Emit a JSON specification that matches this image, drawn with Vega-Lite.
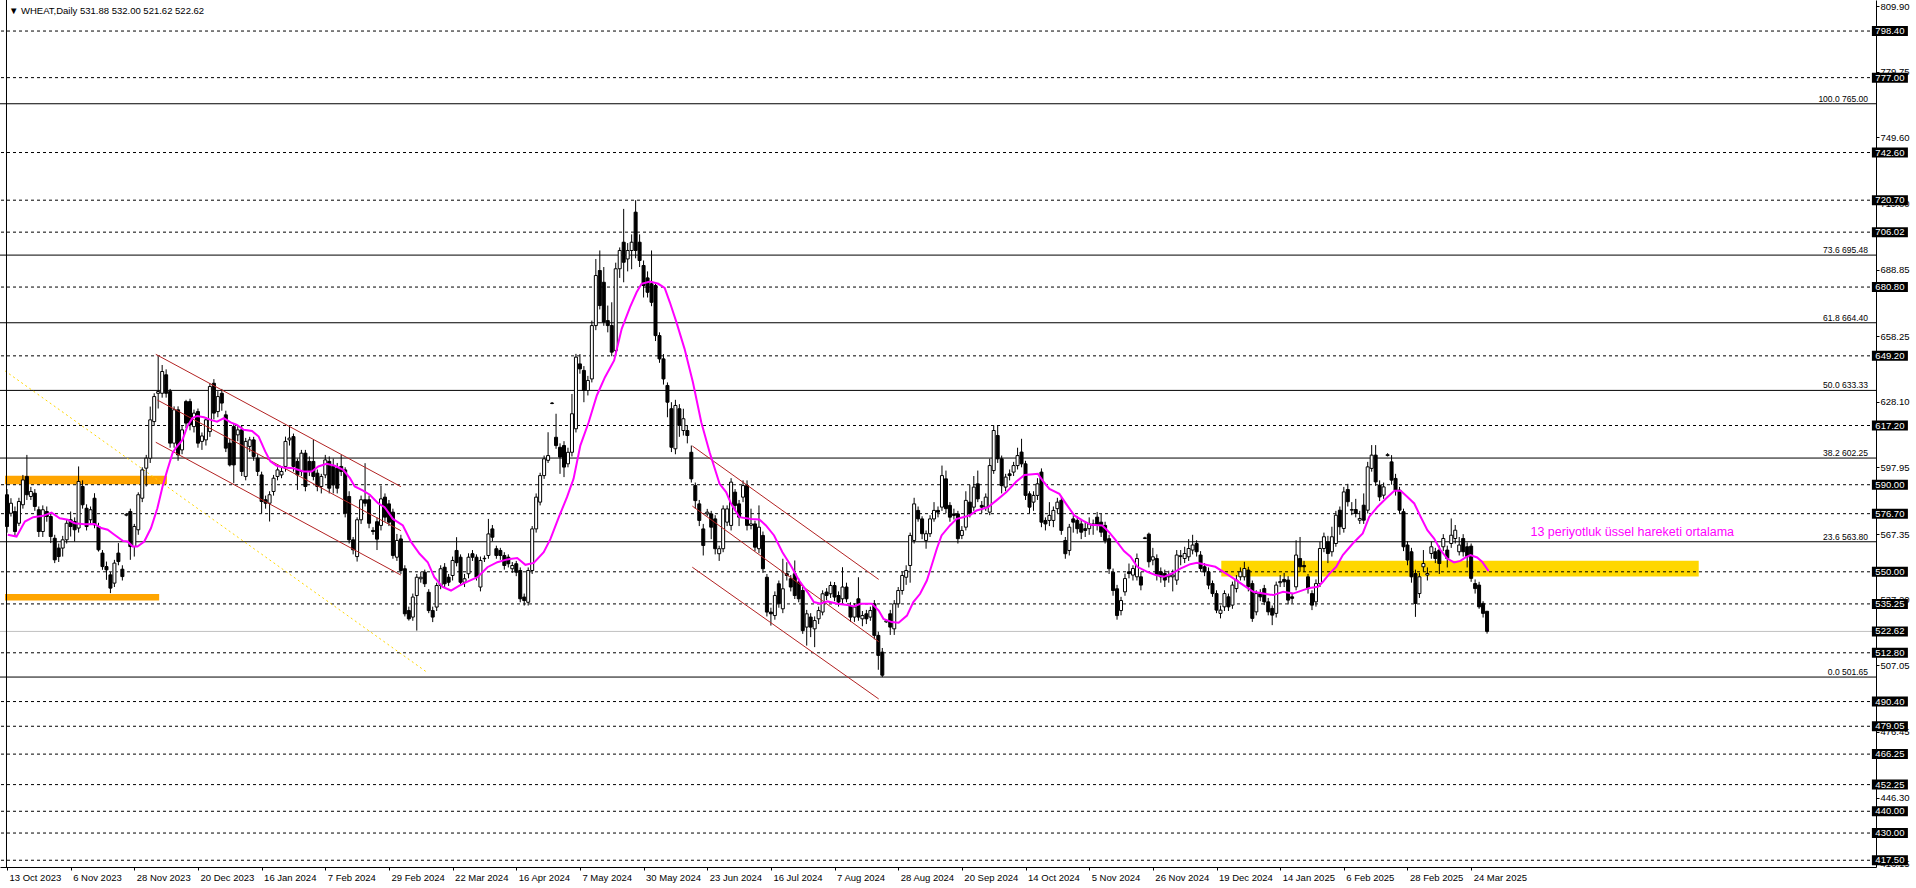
{
"$schema":"https://vega.github.io/schema/vega-lite/v6.json",
"width":1876,"height":867,"autosize":"none",
"padding":{"left":0,"top":0,"right":40,"bottom":21},
"background":"#ffffff",
"config":{"view":{"stroke":null},"text":{"font":"Liberation Sans"},"axis":{"grid":false,"title":null}},
"datasets":{
"candles":[
{"i":0,"o":585.4,"h":588,"l":568,"c":570.8},{"i":1,"o":576.9,"h":583.8,"l":575.4,"c":581.5},{"i":2,"o":577.7,"h":580,"l":566,"c":568.5},{"i":3,"o":572.3,"h":584,"l":571,"c":582.3},{"i":4,"o":580.8,"h":594.5,"l":579,"c":592.2},{"i":5,"o":593.8,"h":603.7,"l":583,"c":585.4},{"i":6,"o":584.6,"h":589,"l":583,"c":586.9},{"i":7,"o":586.1,"h":588,"l":578,"c":580.0},{"i":8,"o":578.5,"h":580,"l":566,"c":568.5},{"i":9,"o":568.5,"h":580.5,"l":566,"c":578.5},
{"i":10,"o":577.7,"h":580,"l":573,"c":575.4},{"i":11,"o":575.4,"h":577,"l":563.2,"c":566.2},{"i":12,"o":565.4,"h":567,"l":554.0,"c":555.5},{"i":13,"o":560.9,"h":563,"l":554.5,"c":557.0},{"i":14,"o":560.9,"h":566.5,"l":557.0,"c":564.7},{"i":15,"o":564.7,"h":574,"l":563,"c":572.3},{"i":16,"o":573.9,"h":577.7,"l":566.2,"c":570.8},{"i":17,"o":573.1,"h":575,"l":563.9,"c":569.3},{"i":18,"o":570.1,"h":598.4,"l":568,"c":591.5},{"i":19,"o":589.2,"h":592,"l":579,"c":580.8},
{"i":20,"o":579.2,"h":581,"l":569,"c":570.8},{"i":21,"o":573.9,"h":580,"l":572,"c":578.5},{"i":22,"o":583.8,"h":586.1,"l":570,"c":571.6},{"i":23,"o":570.8,"h":572.5,"l":559.3,"c":560.1},{"i":24,"o":558.6,"h":560,"l":550.9,"c":552.4},{"i":25,"o":552.4,"h":554.7,"l":546.3,"c":550.9},{"i":26,"o":548.6,"h":550,"l":540.2,"c":542.5},{"i":27,"o":544.8,"h":555.5,"l":543,"c":554.0},{"i":28,"o":558.6,"h":563.2,"l":553,"c":554.7},{"i":29,"o":551.2,"h":553,"l":546,"c":547.8},
{"i":30,"o":576.0,"h":577,"l":575.5,"c":576.4},{"i":31,"o":577.7,"h":579,"l":555.5,"c":561.6},{"i":32,"o":561.6,"h":572,"l":557,"c":570.8},{"i":33,"o":569.3,"h":586.5,"l":567,"c":585.4},{"i":34,"o":583.8,"h":598,"l":582,"c":596.8},{"i":35,"o":597.6,"h":603.7,"l":589.2,"c":602.2},{"i":36,"o":602.2,"h":625.9,"l":600,"c":619.8},{"i":37,"o":619.0,"h":632.0,"l":617,"c":630.5},{"i":38,"o":632.0,"h":648.9,"l":625,"c":632.8},{"i":39,"o":632.0,"h":645,"l":630,"c":642.0},
{"i":40,"o":640.5,"h":643,"l":630,"c":632.0},{"i":41,"o":632.8,"h":634,"l":607,"c":609.1},{"i":42,"o":609.1,"h":626,"l":607,"c":624.4},{"i":43,"o":624.4,"h":626,"l":601,"c":603.7},{"i":44,"o":606.0,"h":617,"l":604,"c":615.2},{"i":45,"o":628.2,"h":629,"l":616,"c":618.3},{"i":46,"o":628.2,"h":629.5,"l":615,"c":617.5},{"i":47,"o":616.7,"h":624.5,"l":614,"c":622.9},{"i":48,"o":623.6,"h":625,"l":607,"c":609.1},{"i":49,"o":609.9,"h":614,"l":606,"c":612.4},
{"i":50,"o":610.6,"h":621,"l":608,"c":619.8},{"i":51,"o":614.4,"h":636.6,"l":612,"c":635.1},{"i":52,"o":636.6,"h":638.5,"l":620,"c":622.9},{"i":53,"o":623.6,"h":633,"l":621,"c":630.5},{"i":54,"o":632.0,"h":634,"l":624,"c":627.5},{"i":55,"o":622.1,"h":624,"l":605,"c":606.8},{"i":56,"o":609.1,"h":611,"l":598.4,"c":599.1},{"i":57,"o":616.7,"h":618,"l":590.7,"c":599.1},{"i":58,"o":612.9,"h":617,"l":610,"c":615.2},{"i":59,"o":615.2,"h":617,"l":594,"c":596.1},
{"i":60,"o":593.8,"h":611.5,"l":592,"c":609.9},{"i":61,"o":607.6,"h":612,"l":605,"c":610.6},{"i":62,"o":610.6,"h":612,"l":601,"c":603.0},{"i":63,"o":602.2,"h":604,"l":594,"c":596.1},{"i":64,"o":594.5,"h":596,"l":576.9,"c":582.3},{"i":65,"o":583.1,"h":585,"l":579,"c":581.5},{"i":66,"o":581.5,"h":587,"l":573.1,"c":585.4},{"i":67,"o":586.9,"h":594.5,"l":585,"c":593.0},{"i":68,"o":593.8,"h":598,"l":592,"c":596.8},{"i":69,"o":594.5,"h":598.4,"l":593,"c":596.1},
{"i":70,"o":598.4,"h":612.1,"l":596,"c":609.9},{"i":71,"o":610.6,"h":616.7,"l":608,"c":611.4},{"i":72,"o":612.1,"h":613.5,"l":596,"c":598.4},{"i":73,"o":600.7,"h":602,"l":587.6,"c":594.5},{"i":74,"o":596.1,"h":606,"l":594,"c":604.5},{"i":75,"o":604.5,"h":606,"l":587,"c":589.2},{"i":76,"o":600.7,"h":603,"l":594,"c":596.1},{"i":77,"o":600.7,"h":610.6,"l":592,"c":593.8},{"i":78,"o":595.3,"h":597,"l":587,"c":589.2},{"i":79,"o":589.2,"h":595,"l":586,"c":593.8},
{"i":80,"o":594.5,"h":603.7,"l":593,"c":601.4},{"i":81,"o":600.7,"h":603,"l":586,"c":588.4},{"i":82,"o":598.4,"h":602,"l":586,"c":589.9},{"i":83,"o":597.6,"h":600,"l":586,"c":588.4},{"i":84,"o":598.4,"h":603.7,"l":594,"c":596.1},{"i":85,"o":596.8,"h":598,"l":575,"c":576.9},{"i":86,"o":584.6,"h":587,"l":563,"c":564.7},{"i":87,"o":564.7,"h":566,"l":558,"c":560.1},{"i":88,"o":557.0,"h":575,"l":554.7,"c":573.9},{"i":89,"o":573.9,"h":585,"l":572,"c":583.1},
{"i":90,"o":583.1,"h":599.9,"l":580,"c":581.5},{"i":91,"o":583.1,"h":585,"l":570,"c":572.3},{"i":92,"o":569.0,"h":570.5,"l":567,"c":568.5},{"i":93,"o":573.0,"h":575,"l":560,"c":565.0},{"i":94,"o":571.3,"h":589.6,"l":569,"c":583.5},{"i":95,"o":584.3,"h":586,"l":573,"c":575.1},{"i":96,"o":581.2,"h":583,"l":571,"c":572.8},{"i":97,"o":577.4,"h":579,"l":556,"c":557.5},{"i":98,"o":556.7,"h":567.4,"l":555,"c":564.4},{"i":99,"o":565.1,"h":567,"l":549,"c":550.6},
{"i":100,"o":551.4,"h":553,"l":529.5,"c":530.7},{"i":101,"o":532.2,"h":534,"l":527.6,"c":528.4},{"i":102,"o":529.2,"h":540,"l":527.5,"c":538.4},{"i":103,"o":539.1,"h":549,"l":523.0,"c":547.5},{"i":104,"o":546.8,"h":550,"l":545,"c":547.5},{"i":105,"o":549.8,"h":551,"l":543,"c":544.5},{"i":106,"o":540.6,"h":542,"l":531,"c":532.2},{"i":107,"o":532.2,"h":534,"l":526.9,"c":529.2},{"i":108,"o":533.8,"h":545,"l":532,"c":543.7},{"i":109,"o":543.7,"h":553,"l":542,"c":551.4},
{"i":110,"o":552.1,"h":554,"l":543,"c":544.5},{"i":111,"o":547.5,"h":549,"l":543.5,"c":545.2},{"i":112,"o":548.3,"h":557,"l":546,"c":555.2},{"i":113,"o":559.8,"h":565.9,"l":552.5,"c":554.2},{"i":114,"o":556.7,"h":558,"l":543.5,"c":545.2},{"i":115,"o":545.2,"h":549,"l":543,"c":546.8},{"i":116,"o":549.1,"h":558.5,"l":547,"c":556.7},{"i":117,"o":558.3,"h":560,"l":555,"c":556.7},{"i":118,"o":556.7,"h":558,"l":546,"c":547.5},{"i":119,"o":543.0,"h":557,"l":541,"c":555.2},
{"i":120,"o":556.2,"h":557.5,"l":554.5,"c":556.0},{"i":121,"o":557.5,"h":574.3,"l":556,"c":567.4},{"i":122,"o":569.7,"h":571.5,"l":564,"c":565.9},{"i":123,"o":560.6,"h":562,"l":556,"c":557.5},{"i":124,"o":559.8,"h":561,"l":555.5,"c":557.5},{"i":125,"o":557.5,"h":559,"l":551,"c":552.9},{"i":126,"o":556.7,"h":558,"l":552,"c":553.7},{"i":127,"o":551.4,"h":554.5,"l":549.5,"c":552.9},{"i":128,"o":553.7,"h":555,"l":548,"c":549.8},{"i":129,"o":550.6,"h":552,"l":536,"c":537.6},
{"i":130,"o":538.4,"h":540,"l":534.5,"c":536.8},{"i":131,"o":536.0,"h":552,"l":534.5,"c":550.6},{"i":132,"o":550.6,"h":571,"l":549,"c":569.7},{"i":133,"o":569.7,"h":586,"l":568,"c":584.3},{"i":134,"o":582.0,"h":595.5,"l":580.5,"c":594.2},{"i":135,"o":594.2,"h":603.4,"l":592.7,"c":601.9},{"i":136,"o":601.2,"h":614.1,"l":600,"c":603.4},{"i":137,"o":627.3,"h":628,"l":627,"c":627.5},{"i":138,"o":611.8,"h":622.6,"l":606.5,"c":608.0},{"i":139,"o":607.2,"h":609,"l":595.0,"c":602.7},
{"i":140,"o":608.0,"h":610,"l":593.5,"c":598.1},{"i":141,"o":599.6,"h":607,"l":598,"c":604.9},{"i":142,"o":604.9,"h":631.7,"l":603,"c":622.6},{"i":143,"o":615.7,"h":650.1,"l":614,"c":648.6},{"i":144,"o":645.5,"h":650,"l":641,"c":643.2},{"i":145,"o":642.5,"h":644.5,"l":627.9,"c":633.3},{"i":146,"o":633.3,"h":640,"l":631,"c":637.9},{"i":147,"o":638.6,"h":665.4,"l":637,"c":663.1},{"i":148,"o":663.1,"h":693.7,"l":661,"c":686.1},{"i":149,"o":688.4,"h":697.6,"l":670.5,"c":672.3},
{"i":150,"o":683.0,"h":690,"l":663,"c":664.7},{"i":151,"o":665.4,"h":672.3,"l":660,"c":663.1},{"i":152,"o":663.1,"h":673.8,"l":649,"c":650.9},{"i":153,"o":651.6,"h":692,"l":649,"c":689.2},{"i":154,"o":689.2,"h":699,"l":685,"c":697.6},{"i":155,"o":701.4,"h":716.7,"l":683,"c":692.2},{"i":156,"o":693.7,"h":701,"l":688,"c":697.6},{"i":157,"o":697.6,"h":705,"l":689,"c":701.4},{"i":158,"o":715.2,"h":720.7,"l":694,"c":697.6},{"i":159,"o":701.4,"h":705,"l":690,"c":693.0},
{"i":160,"o":690.7,"h":693,"l":676,"c":681.5},{"i":161,"o":685.0,"h":688,"l":676,"c":678.4},{"i":162,"o":682.3,"h":697.6,"l":672,"c":673.8},{"i":163,"o":681.5,"h":683,"l":656,"c":658.5},{"i":164,"o":658.5,"h":660,"l":646,"c":647.8},{"i":165,"o":647.8,"h":650,"l":636,"c":638.6},{"i":166,"o":635.6,"h":637,"l":621,"c":627.9},{"i":167,"o":624.9,"h":627.9,"l":605,"c":607.2},{"i":168,"o":606.5,"h":629,"l":604,"c":626.4},{"i":169,"o":624.9,"h":627,"l":612,"c":617.2},
{"i":170,"o":614.9,"h":624.9,"l":612.6,"c":620.3},{"i":171,"o":614.9,"h":617,"l":609,"c":612.6},{"i":172,"o":604.9,"h":608,"l":591,"c":592.7},{"i":173,"o":589.6,"h":591,"l":579,"c":582.7},{"i":174,"o":581.2,"h":583,"l":571,"c":573.6},{"i":175,"o":569.7,"h":572,"l":557.5,"c":562.1},{"i":176,"o":576.6,"h":578.9,"l":575.5,"c":577.4},{"i":177,"o":576.6,"h":578,"l":565,"c":570.5},{"i":178,"o":574.3,"h":576,"l":558,"c":560.6},{"i":179,"o":558.3,"h":562,"l":555,"c":560.6},
{"i":180,"o":560.6,"h":580.5,"l":559,"c":578.9},{"i":181,"o":572.8,"h":580.5,"l":571,"c":578.9},{"i":182,"o":571.3,"h":593,"l":569,"c":591.2},{"i":183,"o":586.6,"h":588,"l":578,"c":580.5},{"i":184,"o":581.2,"h":583,"l":571,"c":575.1},{"i":185,"o":584.3,"h":592,"l":582,"c":589.6},{"i":186,"o":589.6,"h":592,"l":569,"c":571.3},{"i":187,"o":571.3,"h":579.0,"l":569.5,"c":572.0},{"i":188,"o":572.0,"h":573.5,"l":559.5,"c":561.3},{"i":189,"o":560.6,"h":580.5,"l":558.5,"c":570.5},
{"i":190,"o":566.7,"h":568.5,"l":549.5,"c":551.4},{"i":191,"o":547.5,"h":549,"l":529.5,"c":531.5},{"i":192,"o":531.5,"h":533.5,"l":525.3,"c":530.7},{"i":193,"o":529.9,"h":541,"l":528,"c":539.1},{"i":194,"o":544.5,"h":546,"l":533.5,"c":535.3},{"i":195,"o":533.0,"h":556.0,"l":531,"c":542.2},{"i":196,"o":549.1,"h":554.4,"l":546,"c":548.3},{"i":197,"o":546.8,"h":548.5,"l":541,"c":543.0},{"i":198,"o":549.1,"h":555.2,"l":537.5,"c":539.1},{"i":199,"o":545.3,"h":547,"l":536,"c":537.6},
{"i":200,"o":541.4,"h":543,"l":521.5,"c":523.0},{"i":201,"o":524.6,"h":532.5,"l":516.1,"c":530.7},{"i":202,"o":529.2,"h":531,"l":520,"c":524.6},{"i":203,"o":523.8,"h":529.5,"l":515.4,"c":527.6},{"i":204,"o":528.4,"h":534,"l":526,"c":532.2},{"i":205,"o":531.5,"h":541.5,"l":530,"c":539.9},{"i":206,"o":540.7,"h":542.5,"l":537,"c":539.1},{"i":207,"o":539.9,"h":545.5,"l":538,"c":543.7},{"i":208,"o":543.7,"h":545.3,"l":536.5,"c":538.4},{"i":209,"o":539.1,"h":541,"l":534,"c":536.1},
{"i":210,"o":537.6,"h":552.1,"l":535.5,"c":543.0},{"i":211,"o":543.0,"h":545,"l":536,"c":537.6},{"i":212,"o":534.5,"h":536,"l":527,"c":529.2},{"i":213,"o":529.2,"h":535.5,"l":527,"c":533.8},{"i":214,"o":537.6,"h":547.5,"l":527.5,"c":529.2},{"i":215,"o":528.4,"h":532,"l":525,"c":529.9},{"i":216,"o":530.7,"h":532.5,"l":526,"c":528.4},{"i":217,"o":529.2,"h":534,"l":527.5,"c":532.2},{"i":218,"o":535.3,"h":537,"l":519,"c":520.8},{"i":219,"o":520.8,"h":522.5,"l":505,"c":511.6},
{"i":220,"o":513.1,"h":515,"l":501.65,"c":502.5},{"i":221,"o":527.0,"h":528,"l":526.5,"c":527.5},{"i":222,"o":530.7,"h":532.5,"l":521,"c":524.6},{"i":223,"o":523.8,"h":537,"l":521,"c":535.3},{"i":224,"o":535.3,"h":543,"l":533.5,"c":541.4},{"i":225,"o":541.4,"h":550,"l":539.5,"c":548.3},{"i":226,"o":547.5,"h":553,"l":544,"c":550.6},{"i":227,"o":552.9,"h":568,"l":545,"c":566.7},{"i":228,"o":564.4,"h":584,"l":563,"c":581.2},{"i":229,"o":578.2,"h":580,"l":573,"c":574.3},
{"i":230,"o":574.3,"h":575.5,"l":565,"c":567.5},{"i":231,"o":564.4,"h":569,"l":560.6,"c":567.5},{"i":232,"o":567.5,"h":576,"l":566,"c":574.3},{"i":233,"o":574.3,"h":582,"l":573,"c":578.2},{"i":234,"o":578.2,"h":580,"l":575,"c":577.4},{"i":235,"o":579.7,"h":598.8,"l":578,"c":594.2},{"i":236,"o":592.7,"h":596.5,"l":577,"c":579.0},{"i":237,"o":580.5,"h":582,"l":573,"c":575.1},{"i":238,"o":576.6,"h":579,"l":574,"c":575.9},{"i":239,"o":576.6,"h":578,"l":563,"c":565.2},
{"i":240,"o":566.7,"h":571,"l":565,"c":569.0},{"i":241,"o":570.5,"h":587,"l":569,"c":582.8},{"i":242,"o":582.0,"h":590,"l":575,"c":576.6},{"i":243,"o":579.7,"h":594,"l":578,"c":588.9},{"i":244,"o":590.4,"h":596.5,"l":582,"c":583.5},{"i":245,"o":580.5,"h":582.5,"l":577,"c":579.7},{"i":246,"o":579.7,"h":586,"l":578,"c":584.3},{"i":247,"o":577.4,"h":602,"l":576,"c":598.8},{"i":248,"o":596.5,"h":617.2,"l":595,"c":614.9},{"i":249,"o":612.6,"h":617.2,"l":600,"c":601.9},
{"i":250,"o":601.9,"h":603.4,"l":586,"c":589.6},{"i":251,"o":588.9,"h":595,"l":587,"c":593.5},{"i":252,"o":595.0,"h":597,"l":592,"c":594.2},{"i":253,"o":595.8,"h":600.5,"l":594,"c":598.8},{"i":254,"o":598.8,"h":607,"l":597,"c":603.4},{"i":255,"o":605.0,"h":611.1,"l":598,"c":599.6},{"i":256,"o":599.6,"h":601,"l":583,"c":585.1},{"i":257,"o":585.8,"h":587,"l":577,"c":579.7},{"i":258,"o":582.0,"h":587,"l":578,"c":585.1},{"i":259,"o":585.1,"h":593,"l":583,"c":590.4},
{"i":260,"o":595.8,"h":597.5,"l":570.5,"c":572.8},{"i":261,"o":573.6,"h":575,"l":569,"c":572.0},{"i":262,"o":573.6,"h":582,"l":571,"c":575.9},{"i":263,"o":573.6,"h":580,"l":570.5,"c":578.2},{"i":264,"o":579.0,"h":584,"l":577,"c":582.0},{"i":265,"o":582.8,"h":584.5,"l":567,"c":569.0},{"i":266,"o":564.4,"h":566,"l":556,"c":558.3},{"i":267,"o":559.8,"h":572,"l":557.5,"c":570.5},{"i":268,"o":574.3,"h":576,"l":568,"c":572.8},{"i":269,"o":573.6,"h":575.5,"l":567.5,"c":569.8},
{"i":270,"o":572.0,"h":574,"l":565,"c":568.2},{"i":271,"o":569.8,"h":573,"l":566,"c":569.0},{"i":272,"o":569.8,"h":575,"l":567,"c":572.0},{"i":273,"o":572.0,"h":574,"l":567,"c":571.3},{"i":274,"o":575.1,"h":577.5,"l":569,"c":571.3},{"i":275,"o":572.8,"h":576.6,"l":566,"c":568.2},{"i":276,"o":571.3,"h":573,"l":563,"c":564.4},{"i":277,"o":565.2,"h":567,"l":549,"c":551.4},{"i":278,"o":549.8,"h":551.5,"l":539,"c":541.4},{"i":279,"o":542.2,"h":544,"l":528,"c":529.9},
{"i":280,"o":532.2,"h":538.5,"l":530,"c":536.8},{"i":281,"o":540.8,"h":549.2,"l":539,"c":546.9},{"i":282,"o":550.0,"h":553.8,"l":547,"c":549.2},{"i":283,"o":548.5,"h":553,"l":546,"c":551.5},{"i":284,"o":547.7,"h":558.4,"l":546,"c":556.1},{"i":285,"o":547.7,"h":550,"l":541.5,"c":543.9},{"i":286,"o":565.3,"h":566.1,"l":565,"c":565.6},{"i":287,"o":567.3,"h":568,"l":552,"c":554.6},{"i":288,"o":555.4,"h":561,"l":553,"c":556.9},{"i":289,"o":556.1,"h":558,"l":546,"c":548.5},
{"i":290,"o":550.0,"h":552,"l":545,"c":547.7},{"i":291,"o":549.2,"h":551,"l":543,"c":546.2},{"i":292,"o":547.7,"h":550.5,"l":545,"c":548.5},{"i":293,"o":547.7,"h":551,"l":541,"c":548.5},{"i":294,"o":546.2,"h":560,"l":544,"c":557.7},{"i":295,"o":557.0,"h":560,"l":553,"c":557.4},{"i":296,"o":556.1,"h":561.5,"l":554,"c":558.4},{"i":297,"o":556.9,"h":565,"l":555,"c":560.7},{"i":298,"o":560.0,"h":567,"l":558,"c":562.3},{"i":299,"o":563.0,"h":564.5,"l":557,"c":559.2},
{"i":300,"o":557.7,"h":559.5,"l":550,"c":551.5},{"i":301,"o":552.3,"h":554,"l":548,"c":550.0},{"i":302,"o":550.0,"h":552,"l":542,"c":543.9},{"i":303,"o":544.6,"h":546,"l":538.5,"c":540.0},{"i":304,"o":540.0,"h":541.5,"l":531,"c":532.4},{"i":305,"o":530.9,"h":534.5,"l":528.6,"c":532.4},{"i":306,"o":533.9,"h":541.5,"l":532,"c":540.0},{"i":307,"o":538.5,"h":540,"l":532,"c":533.9},{"i":308,"o":534.7,"h":545.5,"l":533,"c":543.9},{"i":309,"o":542.3,"h":548.5,"l":540.5,"c":546.2},
{"i":310,"o":547.7,"h":552,"l":546,"c":550.0},{"i":311,"o":547.7,"h":554.6,"l":546,"c":551.5},{"i":312,"o":550.8,"h":552.3,"l":541,"c":543.1},{"i":313,"o":544.6,"h":546,"l":527,"c":528.6},{"i":314,"o":531.6,"h":541.5,"l":530,"c":540.0},{"i":315,"o":540.0,"h":542,"l":536.5,"c":538.5},{"i":316,"o":542.3,"h":544,"l":534.7,"c":536.2},{"i":317,"o":536.2,"h":538,"l":530,"c":531.6},{"i":318,"o":533.2,"h":534.5,"l":525.5,"c":530.1},{"i":319,"o":530.9,"h":545.5,"l":529,"c":543.9},
{"i":320,"o":545.0,"h":548.5,"l":543,"c":545.5},{"i":321,"o":546.5,"h":549.5,"l":543,"c":545.4},{"i":322,"o":546.2,"h":548,"l":535,"c":537.0},{"i":323,"o":538.5,"h":540,"l":535.5,"c":537.8},{"i":324,"o":543.1,"h":564.5,"l":541.5,"c":557.7},{"i":325,"o":556.1,"h":566,"l":550,"c":552.3},{"i":326,"o":552.9,"h":555,"l":550,"c":552.3},{"i":327,"o":547.7,"h":549,"l":540,"c":542.3},{"i":328,"o":540.0,"h":541.5,"l":532.4,"c":534.7},{"i":329,"o":536.2,"h":546.5,"l":534,"c":544.6},
{"i":330,"o":544.6,"h":563.8,"l":543,"c":560.7},{"i":331,"o":560.7,"h":568,"l":559,"c":566.1},{"i":332,"o":563.8,"h":566.5,"l":554,"c":558.4},{"i":333,"o":559.2,"h":570.7,"l":557,"c":566.1},{"i":334,"o":563.0,"h":578,"l":561.5,"c":576.0},{"i":335,"o":578.3,"h":580,"l":567,"c":570.7},{"i":336,"o":569.9,"h":589,"l":568,"c":586.7},{"i":337,"o":587.8,"h":590.4,"l":580,"c":582.2},{"i":338,"o":578.3,"h":582,"l":576,"c":578.6},{"i":339,"o":578.6,"h":583.5,"l":575,"c":576.8},
{"i":340,"o":573.7,"h":578,"l":572,"c":574.5},{"i":341,"o":580.6,"h":586,"l":572,"c":573.7},{"i":342,"o":578.3,"h":600.5,"l":576.8,"c":598.2},{"i":343,"o":597.5,"h":608.2,"l":596,"c":603.6},{"i":344,"o":603.6,"h":608.2,"l":589.5,"c":591.3},{"i":345,"o":589.8,"h":592,"l":582.5,"c":584.4},{"i":346,"o":585.2,"h":591,"l":583.5,"c":589.0},{"i":347,"o":603.4,"h":604.5,"l":603,"c":603.8},{"i":348,"o":600.5,"h":603.6,"l":590,"c":592.1},{"i":349,"o":592.9,"h":595,"l":585,"c":587.5},
{"i":350,"o":587.5,"h":589,"l":576.8,"c":578.3},{"i":351,"o":577.6,"h":579,"l":559.5,"c":561.5},{"i":352,"o":562.3,"h":564,"l":553,"c":555.4},{"i":353,"o":559.2,"h":561,"l":545,"c":547.7},{"i":354,"o":549.2,"h":551,"l":529.3,"c":535.5},{"i":355,"o":540.0,"h":549.5,"l":538,"c":547.7},{"i":356,"o":552.3,"h":560,"l":550,"c":553.8},{"i":357,"o":548.5,"h":552,"l":546,"c":549.2},{"i":358,"o":558.4,"h":563.8,"l":556,"c":561.5},{"i":359,"o":559.2,"h":561,"l":554,"c":556.1},
{"i":360,"o":560.0,"h":562,"l":549,"c":553.8},{"i":361,"o":561.5,"h":567.3,"l":559.5,"c":565.3},{"i":362,"o":560.0,"h":562,"l":552,"c":556.1},{"i":363,"o":563.0,"h":574.5,"l":561,"c":566.8},{"i":364,"o":565.3,"h":571.5,"l":563,"c":569.1},{"i":365,"o":559.2,"h":566,"l":557.5,"c":562.3},{"i":366,"o":565.3,"h":567.3,"l":557,"c":559.2},{"i":367,"o":561.5,"h":563.5,"l":552,"c":556.9},{"i":368,"o":561.8,"h":563,"l":545.4,"c":547.0},{"i":369,"o":544.6,"h":546.5,"l":540,"c":542.3},
{"i":370,"o":543.9,"h":545.4,"l":533,"c":533.9},{"i":371,"o":535.5,"h":536.5,"l":529,"c":530.9},{"i":372,"o":531.88,"h":532.0,"l":521.62,"c":522.62}
],
"ema":[
{"i":0.2,"v":567.0},{"i":2.4,"v":566.2},{"i":4.5,"v":573.1},{"i":6.6,"v":575.1},{"i":9.1,"v":575.7},{"i":11.2,"v":577.2},{"i":13.25,"v":574.6},{"i":15.3,"v":573.9},{"i":17,"v":572.3},{"i":19.5,"v":571.9},{"i":22,"v":572.0},{"i":23.7,"v":570.1},{"i":25.3,"v":569.3},{"i":27,"v":567.0},{"i":29.1,"v":564.2},{"i":30.3,"v":563.9},{"i":31.6,"v":561.6},{"i":32.8,"v":561.6},{"i":34.5,"v":563.9},{"i":36.2,"v":570.1},{"i":37.8,"v":579.2},{"i":39.1,"v":589.2},{"i":40.3,"v":596.8},{"i":41.6,"v":604.5},{"i":42.4,"v":606.8},{"i":44.1,"v":610.6},{"i":45.3,"v":616.7},{"i":46.6,"v":620.6},{"i":47.8,"v":621.6},{"i":49.5,"v":621.0},{"i":51.2,"v":619.8},{"i":52.8,"v":619.0},{"i":54.5,"v":620.6},{"i":56.2,"v":618.6},{"i":57.8,"v":617.5},{"i":59.5,"v":615.2},{"i":61.6,"v":614.7},{"i":63.25,"v":612.1},{"i":64.9,"v":605.3},{"i":66.2,"v":600.7},{"i":67.8,"v":598.7},{"i":69.5,"v":597.9},{"i":72,"v":597.6},{"i":74.5,"v":596.1},{"i":76.6,"v":596.1},{"i":78.25,"v":598.4},{"i":80.3,"v":599.6},{"i":82.4,"v":598.7},{"i":84.5,"v":596.8},{"i":86.2,"v":593.0},{"i":87.4,"v":589.2},{"i":89.5,"v":587.3},{"i":91.2,"v":585.4},{"i":92.4,"v":583.1},{"i":93.25,"v":581.5},{"i":94.9,"v":579.7},{"i":97,"v":574.3},{"i":99.5,"v":571.3},{"i":101.6,"v":563.6},{"i":103.7,"v":558.3},{"i":105.75,"v":554.4},{"i":107.4,"v":547.5},{"i":109.5,"v":543.0},{"i":111.6,"v":541.4},{"i":113.7,"v":543.7},{"i":115.75,"v":545.5},{"i":118.25,"v":547.5},{"i":120.75,"v":552.1},{"i":123.25,"v":554.4},{"i":125.75,"v":555.7},{"i":128.25,"v":556.3},{"i":130.3,"v":553.2},{"i":132.4,"v":554.1},{"i":134.9,"v":559.0},{"i":136.6,"v":565.1},{"i":138.7,"v":575.1},{"i":140.75,"v":584.3},{"i":142.4,"v":592.7},{"i":144.1,"v":608.0},{"i":146.2,"v":618.7},{"i":148.25,"v":631.0},{"i":150.3,"v":639.4},{"i":152.6,"v":647.1},{"i":154.5,"v":661.6},{"i":156.6,"v":671.6},{"i":158.25,"v":678.4},{"i":159.5,"v":682.3},{"i":161.6,"v":683.3},{"i":163.7,"v":682.3},{"i":165.3,"v":680.4},{"i":166.6,"v":673.8},{"i":168.25,"v":664.7},{"i":170.3,"v":652.4},{"i":172.4,"v":637.1},{"i":174.5,"v":618.7},{"i":176.6,"v":604.9},{"i":179.1,"v":590.4},{"i":180.75,"v":586.6},{"i":182,"v":581.2},{"i":184.1,"v":575.1},{"i":187,"v":574.3},{"i":189.1,"v":574.0},{"i":190.75,"v":571.3},{"i":192.8,"v":566.7},{"i":194.9,"v":559.0},{"i":197,"v":552.9},{"i":199.1,"v":546.0},{"i":201.2,"v":540.7},{"i":202.8,"v":536.1},{"i":204.5,"v":535.3},{"i":206.2,"v":536.4},{"i":208.7,"v":535.3},{"i":211.2,"v":534.8},{"i":212.8,"v":534.1},{"i":214.5,"v":535.3},{"i":217.4,"v":535.3},{"i":219.1,"v":532.2},{"i":220.3,"v":528.4},{"i":222.4,"v":526.9},{"i":224.1,"v":526.6},{"i":226.2,"v":529.9},{"i":227.8,"v":536.1},{"i":229.5,"v":539.9},{"i":231.2,"v":546.0},{"i":232.4,"v":552.9},{"i":233.7,"v":560.6},{"i":234.9,"v":566.7},{"i":237,"v":571.3},{"i":238.7,"v":574.3},{"i":240.3,"v":575.1},{"i":242,"v":575.9},{"i":243.7,"v":578.2},{"i":245.3,"v":579.0},{"i":246.6,"v":579.7},{"i":248.7,"v":582.8},{"i":251.2,"v":586.6},{"i":253.7,"v":591.5},{"i":255.75,"v":594.5},{"i":259.1,"v":595.0},{"i":260.3,"v":591.9},{"i":262,"v":588.1},{"i":264.5,"v":585.8},{"i":266.2,"v":581.2},{"i":268.25,"v":575.9},{"i":270.3,"v":573.6},{"i":272.4,"v":571.6},{"i":275.3,"v":571.3},{"i":277,"v":568.2},{"i":278.7,"v":564.4},{"i":280.75,"v":559.5},{"i":282.4,"v":556.9},{"i":284.1,"v":552.3},{"i":286.6,"v":550.0},{"i":288.7,"v":548.5},{"i":290.75,"v":547.7},{"i":292.8,"v":549.2},{"i":294.9,"v":551.5},{"i":297.4,"v":553.5},{"i":299.1,"v":554.1},{"i":301.6,"v":553.1},{"i":303.7,"v":552.3},{"i":305.75,"v":550.0},{"i":308.25,"v":547.0},{"i":310.75,"v":543.9},{"i":313.25,"v":540.8},{"i":315.75,"v":540.0},{"i":318.25,"v":539.3},{"i":320.75,"v":540.8},{"i":323.25,"v":540.0},{"i":325.75,"v":541.6},{"i":327.4,"v":542.6},{"i":329.5,"v":543.1},{"i":330.75,"v":545.4},{"i":332.4,"v":549.2},{"i":334.1,"v":552.3},{"i":335.75,"v":557.7},{"i":338.25,"v":563.0},{"i":340.75,"v":567.6},{"i":342.4,"v":575.3},{"i":344.5,"v":579.9},{"i":346.6,"v":583.7},{"i":348.7,"v":587.2},{"i":350.3,"v":587.2},{"i":352,"v":584.4},{"i":353.7,"v":581.4},{"i":355.3,"v":575.3},{"i":357,"v":569.1},{"i":358.7,"v":565.3},{"i":360.3,"v":560.0},{"i":362,"v":556.1},{"i":363.7,"v":554.3},{"i":365.3,"v":555.0},{"i":366.6,"v":556.6},{"i":367.8,"v":557.7},{"i":369.5,"v":556.6},{"i":370.75,"v":554.6},{"i":372.4,"v":550.3}
],
"levels":[{"p":798.40},{"p":777.00},{"p":742.60},{"p":720.70},{"p":706.02},{"p":680.80},{"p":649.20},{"p":617.20},{"p":590.00},{"p":576.70},{"p":550.00},{"p":535.25},{"p":512.80},{"p":490.40},{"p":479.05},{"p":466.25},{"p":452.25},{"p":440.00},{"p":430.00},{"p":417.50}],
"boxes":[{"p":798.40},{"p":777.00},{"p":742.60},{"p":720.70},{"p":706.02},{"p":680.80},{"p":649.20},{"p":617.20},{"p":590.00},{"p":576.70},{"p":550.00},{"p":535.25},{"p":522.62},{"p":512.80},{"p":490.40},{"p":479.05},{"p":466.25},{"p":452.25},{"p":440.00},{"p":430.00},{"p":417.50}],
"fibs":[{"p":765.00,"t":"100.0 765.00"},{"p":695.48,"t":"73.6 695.48"},{"p":664.40,"t":"61.8 664.40"},{"p":633.33,"t":"50.0 633.33"},{"p":602.25,"t":"38.2 602.25"},{"p":563.80,"t":"23.6 563.80"},{"p":501.65,"t":"0.0 501.65"}],
"zones":[{"x1":-0.5,"x2":40.2,"y1":590.2,"y2":594.1,"k":"orange"},{"x1":-0.5,"x2":38.25,"y1":536.8,"y2":539.8,"k":"orange"},{"x1":305.2,"x2":425.2,"y1":547.8,"y2":555.1,"k":"gold"}],
"channels":[{"x1":37.4,"y1":649.9,"x2":99,"y2":589.1},{"x1":37.8,"y1":628.9,"x2":99,"y2":568.9},{"x1":37.4,"y1":609.5,"x2":99,"y2":548.5},{"x1":172.25,"y1":607.8,"x2":219.1,"y2":546.5},{"x1":172.25,"y1":580.2,"x2":219.1,"y2":517.9},{"x1":172.25,"y1":552.1,"x2":219.1,"y2":491.6}],
"diag":[{"x1":-0.5,"y1":642.3,"x2":105.75,"y2":503.6}]
},
"layer":[
{"data":{"name":"zones"},"mark":{"type":"rect"},
 "encoding":{
  "x":{"field":"x1","type":"quantitative","title":null,"scale":{"domain":[-0.5,468.5],"nice":false,"zero":false},
   "axis":{"orient":"bottom","title":null,"grid":false,"values":[0,16,32,48,64,80,96,112,128,144,160,176,192,208,224,240,256,272,288,304,320,336,352,368],
    "labelExpr":"['13 Oct 2023','6 Nov 2023','28 Nov 2023','20 Dec 2023','16 Jan 2024','7 Feb 2024','29 Feb 2024','22 Mar 2024','16 Apr 2024','7 May 2024','30 May 2024','23 Jun 2024','16 Jul 2024','7 Aug 2024','28 Aug 2024','20 Sep 2024','14 Oct 2024','5 Nov 2024','26 Nov 2024','19 Dec 2024','14 Jan 2025','6 Feb 2025','28 Feb 2025','24 Mar 2025'][round(datum.value/16)]",
    "labelAlign":"left","labelBaseline":"top","labelOffset":2,"labelPadding":2,"labelFlush":false,"labelOverlap":false,"tickSize":3,"labelFont":"Liberation Sans","labelFontSize":9.5,"labelColor":"#000000","tickColor":"#000000","domainColor":"#000000"}},
  "x2":{"field":"x2"},
  "y":{"field":"y1","type":"quantitative","title":null,"scale":{"domain":[414.4,812.66],"nice":false,"zero":false},
   "axis":{"orient":"right","title":null,"grid":false,"values":[809.90,795.05,779.75,764.45,749.60,734.30,719.00,704.15,688.85,673.55,658.25,643.40,628.10,612.80,597.95,582.65,567.35,552.50,537.20,521.90,507.05,491.75,476.45,461.60,446.30,431.00,416.15],
    "format":".2f","labelAlign":"left","labelBaseline":"middle","labelPadding":1,"labelFlush":false,"labelOverlap":false,"tickSize":3,"labelFont":"Liberation Sans","labelFontSize":9.5,"labelColor":"#000000","tickColor":"#000000","domainColor":"#000000"}},
  "y2":{"field":"y2"},
  "color":{"field":"k","type":"nominal","scale":{"domain":["orange","gold"],"range":["#FFA500","#FFD700"]},"legend":null}}},
{"data":{"name":"levels"},"mark":{"type":"rule","color":"#000000","strokeWidth":1,"strokeDash":[3,3]},
 "encoding":{"y":{"field":"p","type":"quantitative","title":null,"scale":{"domain":[414.4,812.66],"nice":false,"zero":false}}}},
{"data":{"name":"fibs"},"mark":{"type":"rule","color":"#000000","strokeWidth":1},
 "encoding":{"y":{"field":"p","type":"quantitative","title":null,"scale":{"domain":[414.4,812.66],"nice":false,"zero":false}}}},
{"data":{"values":[{"p":522.62}]},"mark":{"type":"rule","color":"#C0C0C0","strokeWidth":1},
 "encoding":{"y":{"field":"p","type":"quantitative","title":null,"scale":{"domain":[414.4,812.66],"nice":false,"zero":false}}}},
{"data":{"name":"diag"},"mark":{"type":"rule","color":"#FFD700","strokeWidth":1,"strokeDash":[2,3]},
 "encoding":{"x":{"field":"x1","type":"quantitative","title":null,"scale":{"domain":[-0.5,468.5],"nice":false,"zero":false}},"x2":{"field":"x2"},
  "y":{"field":"y1","type":"quantitative","title":null,"scale":{"domain":[414.4,812.66],"nice":false,"zero":false}},"y2":{"field":"y2"}}},
{"data":{"name":"candles"},"mark":{"type":"rule","color":"#000000","strokeWidth":1},
 "encoding":{
  "x":{"field":"i","type":"quantitative","title":null,"scale":{"domain":[-0.5,468.5],"nice":false,"zero":false}},
  "y":{"field":"l","type":"quantitative","title":null,"scale":{"domain":[414.4,812.66],"nice":false,"zero":false}},
  "y2":{"field":"h"}}},
{"data":{"name":"candles"},"mark":{"type":"bar","size":3,"stroke":"#000000","strokeWidth":1},
 "encoding":{"x":{"field":"i","type":"quantitative","title":null,"scale":{"domain":[-0.5,468.5],"nice":false,"zero":false}},
  "y":{"field":"o","type":"quantitative","title":null,"scale":{"domain":[414.4,812.66],"nice":false,"zero":false}},"y2":{"field":"c"},
  "fill":{"condition":{"test":"datum.c >= datum.o","value":"#ffffff"},"value":"#000000"}}},
{"data":{"name":"channels"},"mark":{"type":"rule","color":"#B22222","strokeWidth":1},
 "encoding":{"x":{"field":"x1","type":"quantitative","title":null,"scale":{"domain":[-0.5,468.5],"nice":false,"zero":false}},"x2":{"field":"x2"},
  "y":{"field":"y1","type":"quantitative","title":null,"scale":{"domain":[414.4,812.66],"nice":false,"zero":false}},"y2":{"field":"y2"}}},
{"data":{"name":"ema"},"mark":{"type":"line","color":"#FF00FF","strokeWidth":2},
 "encoding":{"x":{"field":"i","type":"quantitative","title":null,"scale":{"domain":[-0.5,468.5],"nice":false,"zero":false}},
  "y":{"field":"v","type":"quantitative","title":null,"scale":{"domain":[414.4,812.66],"nice":false,"zero":false}}}},
{"data":{"name":"fibs"},"mark":{"type":"text","align":"right","baseline":"alphabetic","dy":-2,"fontSize":8.5,"font":"Liberation Sans","color":"#000000"},
 "encoding":{"x":{"datum":467.75,"type":"quantitative","title":null,"scale":{"domain":[-0.5,468.5],"nice":false,"zero":false}},
  "y":{"field":"p","type":"quantitative","title":null,"scale":{"domain":[414.4,812.66],"nice":false,"zero":false}},"text":{"field":"t"}}},
{"data":{"values":[{"t":"13 periyotluk üssel hareketi ortalama"}]},"mark":{"type":"text","align":"center","baseline":"alphabetic","fontSize":12.5,"font":"Liberation Sans","color":"#FF00FF"},
 "encoding":{"x":{"datum":408.5,"type":"quantitative","title":null,"scale":{"domain":[-0.5,468.5],"nice":false,"zero":false}},
  "y":{"datum":566.6,"type":"quantitative","title":null,"scale":{"domain":[414.4,812.66],"nice":false,"zero":false}},"text":{"field":"t"}}},
{"data":{"name":"boxes"},"mark":{"type":"tick","orient":"horizontal","size":36,"thickness":10,"color":"#000000","opacity":1,"clip":false},
 "encoding":{"x":{"datum":473.25,"type":"quantitative","title":null,"scale":{"domain":[-0.5,468.5],"nice":false,"zero":false}},
  "y":{"field":"p","type":"quantitative","title":null,"scale":{"domain":[414.4,812.66],"nice":false,"zero":false}}}},
{"data":{"name":"boxes"},"mark":{"type":"text","align":"center","baseline":"middle","fontSize":9.5,"font":"Liberation Sans","color":"#ffffff","clip":false},
 "encoding":{"x":{"datum":473.25,"type":"quantitative","title":null,"scale":{"domain":[-0.5,468.5],"nice":false,"zero":false}},
  "y":{"field":"p","type":"quantitative","title":null,"scale":{"domain":[414.4,812.66],"nice":false,"zero":false}},"text":{"field":"p","type":"quantitative","format":".2f"}}},
{"data":{"values":[{"t":"▼ WHEAT,Daily  531.88 532.00 521.62 522.62"}]},"mark":{"type":"text","align":"left","baseline":"alphabetic","dx":4,"fontSize":9.5,"font":"Liberation Sans","color":"#000000"},
 "encoding":{"x":{"datum":-0.5,"type":"quantitative","title":null,"scale":{"domain":[-0.5,468.5],"nice":false,"zero":false}},
  "y":{"datum":806.2,"type":"quantitative","title":null,"scale":{"domain":[414.4,812.66],"nice":false,"zero":false}},"text":{"field":"t"}}},
{"data":{"values":[{"x":-0.125}]},"mark":{"type":"rule","color":"#000000","strokeWidth":1},
 "encoding":{"x":{"field":"x","type":"quantitative","title":null,"scale":{"domain":[-0.5,468.5],"nice":false,"zero":false}}}}
]
}
